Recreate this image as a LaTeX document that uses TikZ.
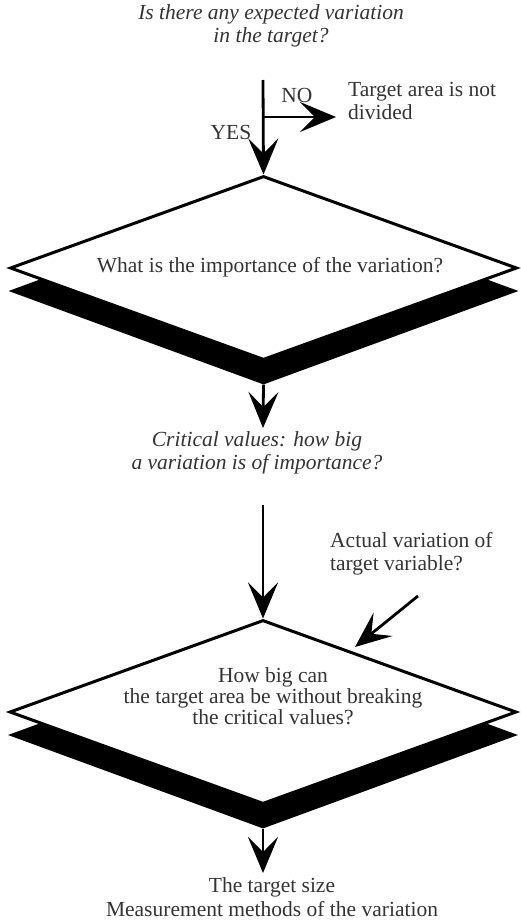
\documentclass[tikz,border=0pt]{standalone}
\usepackage{fontspec}
\setmainfont{Liberation Serif}
\usetikzlibrary{arrows.meta,shapes.geometric}
\begin{document}
\begin{tikzpicture}[x=1pt,y=-1pt,
  flowarrow/.style={line width=2.8pt,-{Stealth[length=36pt,width=30pt,inset=15pt]}},
  decision/.style={diamond,draw=black,line width=3pt,fill=white,
    minimum width=507pt,minimum height=184pt,inner sep=0pt},
  castshadow/.style={diamond,fill=black,draw=none,
    minimum width=510pt,minimum height=187pt,inner sep=0pt},
  txt/.style={text=black!80,font=\fontsize{21.5}{23}\selectfont,align=center,inner sep=0pt},
  question/.style={txt,font=\fontsize{21.5}{23}\selectfont\itshape}]
\useasboundingbox (0,0) rectangle (520,921);

% decision boxes with their dark drop shadows
\node[castshadow] (sh1) at (263.5,291) {};
\node[decision]   (d1)  at (263.5,268) {};
\node[castshadow] (sh2) at (263,735) {};
\node[decision]   (d2)  at (263,712) {};

% texts
\node[question] (q1) at (271,26) {Is there any expected variation\\in the target?};
\node[txt] (no)  at (297,95)  {NO};
\node[txt] (yes) at (231,132) {YES};
\node[txt,anchor=west,align=left] (nottext) at (348,101) {Target area is not\\divided};
\node[txt] (t1) at (270,267) {What is the importance of the variation?};
\node[question] (crit) at (257,453) {Critical values: how big\\a variation is of importance?};
\node[txt,anchor=west,align=left] (actual) at (330,554) {Actual variation of\\target variable?};
\node[txt,font=\fontsize{21.5}{21}\selectfont] (t2) at (273,696)
  {How big can\\the target area be without breaking\\the critical values?};
\node[txt,font=\fontsize{21.5}{24.5}\selectfont] (final) at (272,897)
  {The target size\\Measurement methods of the variation};

% connector end points
\coordinate (q0)     at (263,80);
\coordinate (fork)   at (263,117);
\coordinate (noend)  at (336,117);
\coordinate (c1tip)  at (263,428);
\coordinate (c2from) at (263,505);
\coordinate (act)    at (418,596);
\coordinate (acttip) at (355,647);
\coordinate (endtip) at (263,873);

% connectors
\draw[flowarrow] (q0) -- (d1.north);
\draw[flowarrow] (fork) -- (noend);
\draw[flowarrow] (sh1.south) -- (c1tip);
\draw[flowarrow] (c2from) -- (d2.north);
\draw[flowarrow] (act) -- (acttip);
\draw[flowarrow] (sh2.south) -- (endtip);
\end{tikzpicture}
\end{document}
